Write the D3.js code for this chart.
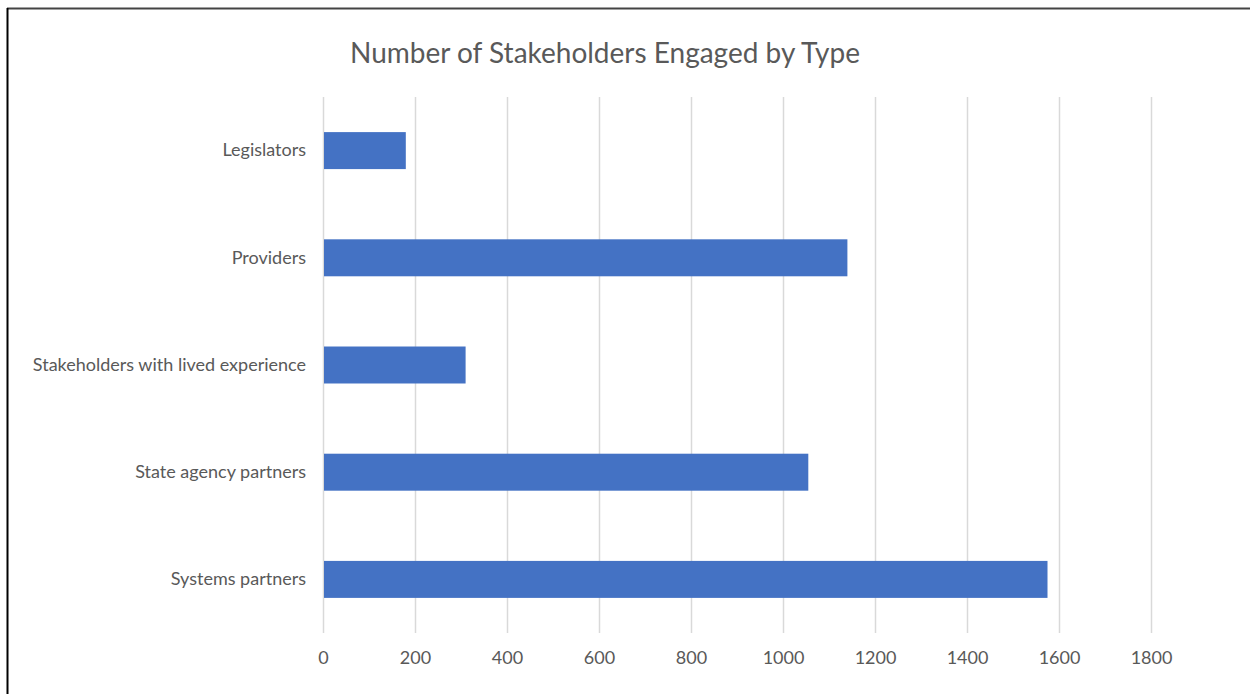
<!DOCTYPE html>
<html>
<head>
<meta charset="utf-8">
<script src="https://cdn.jsdelivr.net/npm/d3@7"></script>
<style>
  body { margin: 0; background: #fff; }
  svg { display: block; font-family: Lato, "Open Sans", sans-serif; }
</style>
</head>
<body>
<div id="chart"></div>
<script>
const categories = ['Legislators', 'Providers', 'Stakeholders with lived experience', 'State agency partners', 'Systems partners'];
const values = [180, 1140, 310, 1055, 1575];
const xTicks = [0, 200, 400, 600, 800, 1000, 1200, 1400, 1600, 1800];
const title = 'Number of Stakeholders Engaged by Type';

const width = 1250;
const height = 694;
const margin = {top: 97, right: 99, bottom: 61, left: 323};

const svg = d3.select('#chart')
    .append('svg')
    .attr('width', width)
    .attr('height', height);

// frame edges (top and left only visible)
svg.append('line')
    .attr('x1', 7).attr('x2', width).attr('y1', 8.5).attr('y2', 8.5)
    .attr('stroke', '#444').attr('stroke-width', 2);
svg.append('line')
    .attr('x1', 7.5).attr('x2', 7.5).attr('y1', 8).attr('y2', height)
    .attr('stroke', '#000').attr('stroke-width', 2);

const x = d3.scaleLinear()
    .domain([0, 1800])
    .range([margin.left, width - margin.right]);

const y = d3.scaleBand()
    .domain(categories)
    .range([margin.top, height - margin.bottom])
    .paddingInner(0.655)
    .paddingOuter(0.3275);

// gridlines
svg.append('g').selectAll('line')
    .data(xTicks)
    .enter()
    .append('line')
    .attr('x1', d => x(d) + 0.5)
    .attr('x2', d => x(d) + 0.5)
    .attr('y1', margin.top)
    .attr('y2', height - margin.bottom)
    .attr('stroke', '#d9d9d9')
    .attr('stroke-width', 1.5);

// bars
svg.append('g').selectAll('rect')
    .data(categories)
    .enter()
    .append('rect')
    .attr('x', x(0) + 1)
    .attr('y', d => y(d))
    .attr('width', (d, i) => x(values[i]) - x(0) - 1)
    .attr('height', y.bandwidth())
    .attr('fill', '#4472c4');

// x axis labels
const xAxis = svg.append('g')
    .attr('transform', `translate(0,${height - margin.bottom})`)
    .call(d3.axisBottom(x).tickValues(xTicks).tickFormat(d3.format('d')).tickSize(0).tickPadding(18));
xAxis.select('.domain').remove();
xAxis.selectAll('text')
    .attr('fill', '#595959')
    .style('font-size', '18px')
    .style('font-family', 'Lato, sans-serif');

// y axis labels
const yAxis = svg.append('g')
    .attr('transform', `translate(${margin.left},0)`)
    .call(d3.axisLeft(y).tickSize(0).tickPadding(17));
yAxis.select('.domain').remove();
yAxis.selectAll('text')
    .attr('fill', '#595959')
    .style('font-size', '18px')
    .style('font-family', 'Lato, sans-serif');

// title
svg.append('text')
    .attr('x', 605)
    .attr('y', 63)
    .attr('text-anchor', 'middle')
    .attr('fill', '#595959')
    .style('font-size', '28px')
    .text(title);
</script>
</body>
</html>
